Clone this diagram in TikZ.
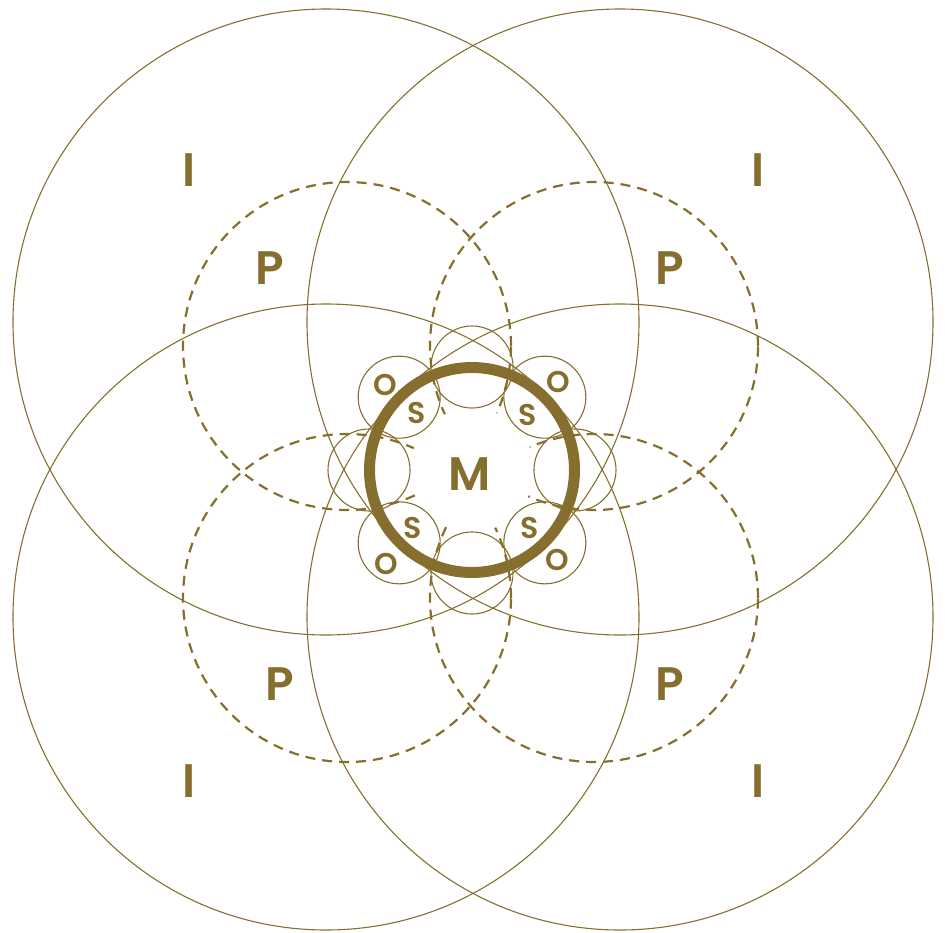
\documentclass[tikz,border=0pt]{standalone}
\usepackage{fontspec}
\setmainfont{Poppins}[UprightFont={* SemiBold}]
\usetikzlibrary{positioning}
\definecolor{gold}{HTML}{866F2E}
\tikzset{
  icirc/.style={circle,draw=gold,line width=1.1pt,minimum size=626pt,inner sep=0pt},
  pcirc/.style={circle,draw=gold,line width=2.2pt,dash pattern=on 10pt off 7pt,minimum size=328pt,inner sep=0pt},
  ocirc/.style={circle,draw=gold,line width=1.1pt,minimum size=82pt,inner sep=0pt},
  ring/.style={circle,draw=gold,line width=11pt,minimum size=205pt,inner sep=0pt},
  hole/.style={circle,fill=white,minimum size=124pt,inner sep=0pt},
  lbl/.style={text=gold,font=\fontsize{47}{47}\selectfont,inner sep=0pt},
  slbl/.style={text=gold,font=\fontsize{30}{30}\selectfont,inner sep=0pt},
}

\begin{document}
\begin{tikzpicture}[x=1pt,y=-1pt]
\useasboundingbox (0,0) rectangle (945,932);
\coordinate (c) at (472,470);
% outer circles
\node[icirc] (i1) at (326,322) {};
\node[icirc] (i2) at (620,322) {};
\node[icirc] (i3) at (326,617) {};
\node[icirc] (i4) at (620,617) {};
% dashed circles
\node[pcirc] (p1) at (347,346) {};
\node[pcirc] (p2) at (594,346) {};
\node[pcirc] (p3) at (347,598) {};
\node[pcirc] (p4) at (594,598) {};
\node[hole] (h) at (c) {};
% small circles on the ring
\foreach \a in {0,45,...,315}
  \node[ocirc] (o\a) at ([shift={(\a:103)}]c) {};
\node[ring] (m) at (c) {};
% labels
\node[lbl] (li1) at (189,170) {I};
\node[lbl] (li2) at (758,170) {I};
\node[lbl] (li3) at (189,781) {I};
\node[lbl] (li4) at (758,781) {I};
\node[lbl] (lp1) at (270,268) {P};
\node[lbl] (lp2) at (670,268) {P};
\node[lbl] (lp3) at (280,684) {P};
\node[lbl] (lp4) at (670,684) {P};
\node[lbl] (lm) at (470,474) {M};
\node[slbl] (lo1) at (385,385) {O};
\node[slbl] (lo2) at (558,382) {O};
\node[slbl] (lo3) at (386,564) {O};
\node[slbl] (lo4) at (557,560) {O};
\node[slbl] (ls1) at (417,413) {S};
\node[slbl] (ls2) at (528,415) {S};
\node[slbl] (ls3) at (413,528) {S};
\node[slbl] (ls4) at (530,528) {S};
\end{tikzpicture}
\end{document}
